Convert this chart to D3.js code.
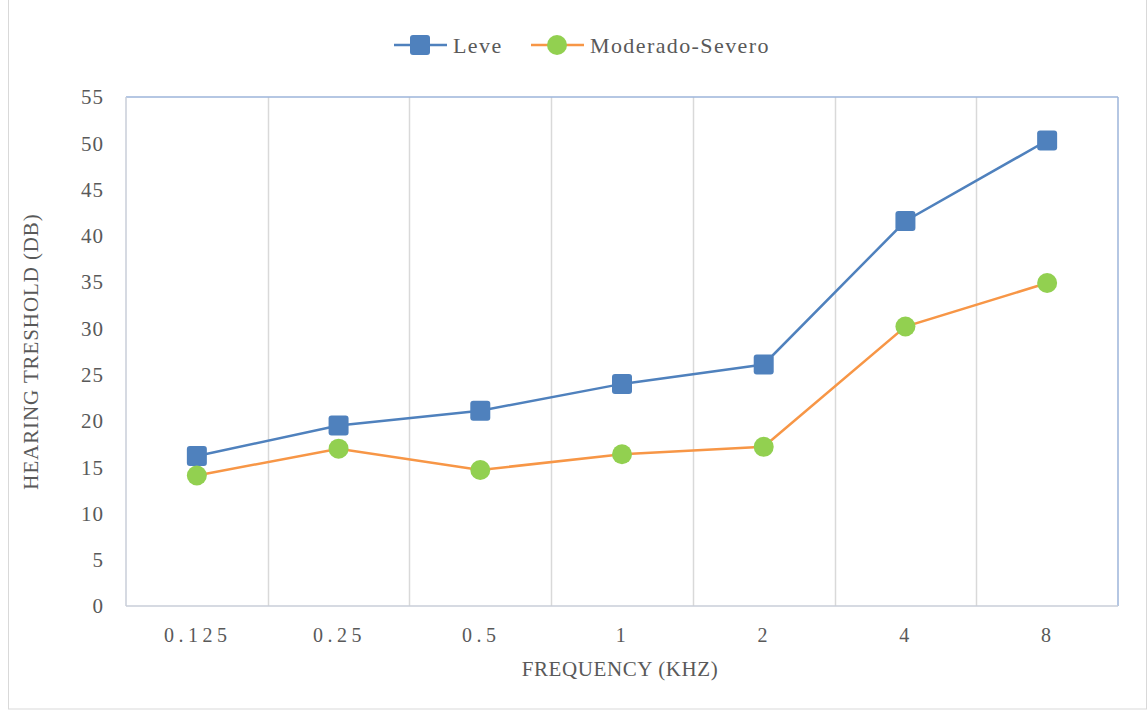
<!DOCTYPE html>
<html>
<head>
<meta charset="utf-8">
<script src="https://cdn.jsdelivr.net/npm/d3@7"></script>
<style>
  html, body { margin: 0; padding: 0; background: #fff; }
  svg text { font-family: "Liberation Serif", "DejaVu Serif", serif; fill: #595959; }
</style>
</head>
<body>
<svg id="chart" width="1147" height="711"></svg>
<script>
/* ── Data ── */
const categories  = ['0.125', '0.25', '0.5', '1', '2', '4', '8'];
const leve        = [16.2, 19.5, 21.1, 24.0, 26.1, 41.6, 50.3];
const moderado    = [14.1, 17.0, 14.7, 16.4, 17.2, 30.2, 34.9];
const yTicks      = [0, 5, 10, 15, 20, 25, 30, 35, 40, 45, 50, 55];

const SERIES = [
  { name: 'Leve',            values: leve,     line: '#4f81bd', fill: '#4f81bd', shape: 'square' },
  { name: 'Moderado-Severo', values: moderado, line: '#f79646', fill: '#92d050', shape: 'circle' },
];

const W = 1147, H = 711;
const margin = { top: 97, right: 29, bottom: 105, left: 126 };
const iW = W - margin.left - margin.right;
const iH = H - margin.top - margin.bottom;

const svg = d3.select('#chart');

// outer chart frame
svg.append('rect')
  .attr('x', 8.5).attr('y', -1)
  .attr('width', W - 9).attr('height', H - 1)
  .attr('fill', 'none')
  .attr('stroke', '#d9d9d9');

const g = svg.append('g')
  .attr('transform', `translate(${margin.left},${margin.top})`);

/* ── Scales ── */
const x = d3.scaleBand().domain(categories).range([0, iW]);
const y = d3.scaleLinear().domain([0, 55]).range([iH, 0]);
const cx = c => x(c) + x.bandwidth() / 2;

/* ── Vertical gridlines between categories ── */
g.selectAll('.vgrid')
  .data(categories.slice(1))
  .join('line')
  .attr('x1', d => Math.round(x(d)) + 0.5)
  .attr('x2', d => Math.round(x(d)) + 0.5)
  .attr('y1', 0).attr('y2', iH)
  .attr('stroke', '#d9d9d9')
  .attr('stroke-width', 1.5);

/* ── Plot border: top/right blue, left/bottom grey ── */
g.append('line').attr('x1', 0).attr('x2', iW).attr('y1', 0).attr('y2', 0)
  .attr('stroke', '#9cb5da').attr('stroke-width', 1.5);
g.append('line').attr('x1', iW).attr('x2', iW).attr('y1', 0).attr('y2', iH)
  .attr('stroke', '#9cb5da').attr('stroke-width', 1.5);
g.append('line').attr('x1', 0).attr('x2', 0).attr('y1', 0).attr('y2', iH)
  .attr('stroke', '#c9ced8').attr('stroke-width', 1.5);
g.append('line').attr('x1', 0).attr('x2', iW).attr('y1', iH).attr('y2', iH)
  .attr('stroke', '#c9ced8').attr('stroke-width', 1.5);

/* ── Y axis labels ── */
g.selectAll('.ytick')
  .data(yTicks)
  .join('text')
  .attr('x', -22)
  .attr('y', d => y(d))
  .attr('dy', '0.35em')
  .attr('text-anchor', 'end')
  .attr('font-size', 21)
  .attr('letter-spacing', '1px')
  .text(d => d);

/* ── X axis labels (letter-spaced) ── */
g.selectAll('.xtick')
  .data(categories)
  .join('text')
  .attr('x', d => cx(d) + 1)
  .attr('y', iH + 36)
  .attr('text-anchor', 'middle')
  .attr('font-size', 20)
  .attr('letter-spacing', '4.5px')
  .text(d => d);

/* ── Axis titles ── */
g.append('text')
  .attr('x', iW / 2 - 2)
  .attr('y', iH + 70)
  .attr('text-anchor', 'middle')
  .attr('font-size', 21)
  .attr('letter-spacing', '0.6px')
  .text('FREQUENCY (KHZ)');

g.append('text')
  .attr('transform', `translate(${-88},${iH / 2}) rotate(-90)`)
  .attr('text-anchor', 'middle')
  .attr('font-size', 21)
  .attr('letter-spacing', '0.9px')
  .text('HEARING TRESHOLD (DB)');

/* ── Lines and markers ── */
const line = d3.line()
  .x((d, i) => cx(categories[i]))
  .y(d => y(d));

function drawMarker(sel, s, px, py) {
  if (s.shape === 'square') {
    sel.append('rect')
      .attr('x', px - 10).attr('y', py - 10)
      .attr('width', 20).attr('height', 20)
      .attr('rx', 3)
      .attr('fill', s.fill);
  } else {
    sel.append('circle')
      .attr('cx', px).attr('cy', py)
      .attr('r', 10)
      .attr('fill', s.fill);
  }
}

SERIES.forEach(s => {
  g.append('path')
    .datum(s.values)
    .attr('d', line)
    .attr('fill', 'none')
    .attr('stroke', s.line)
    .attr('stroke-width', 2.5);
  const mg = g.append('g');
  s.values.forEach((v, i) => drawMarker(mg, s, cx(categories[i]), y(v)));
});

/* ── Legend ── */
const legend = svg.append('g');
const legendItems = [
  { s: SERIES[0], x0: 394 },
  { s: SERIES[1], x0: 531 },
];
legendItems.forEach(({ s, x0 }) => {
  legend.append('line')
    .attr('x1', x0).attr('x2', x0 + 53)
    .attr('y1', 45).attr('y2', 45)
    .attr('stroke', s.line)
    .attr('stroke-width', 2.5);
  drawMarker(legend, s, x0 + 26, 45);
  legend.append('text')
    .attr('x', x0 + 59)
    .attr('y', 45)
    .attr('dy', '0.35em')
    .attr('font-size', 22)
    .attr('letter-spacing', '1.4px')
    .text(s.name);
});
</script>
</body>
</html>
